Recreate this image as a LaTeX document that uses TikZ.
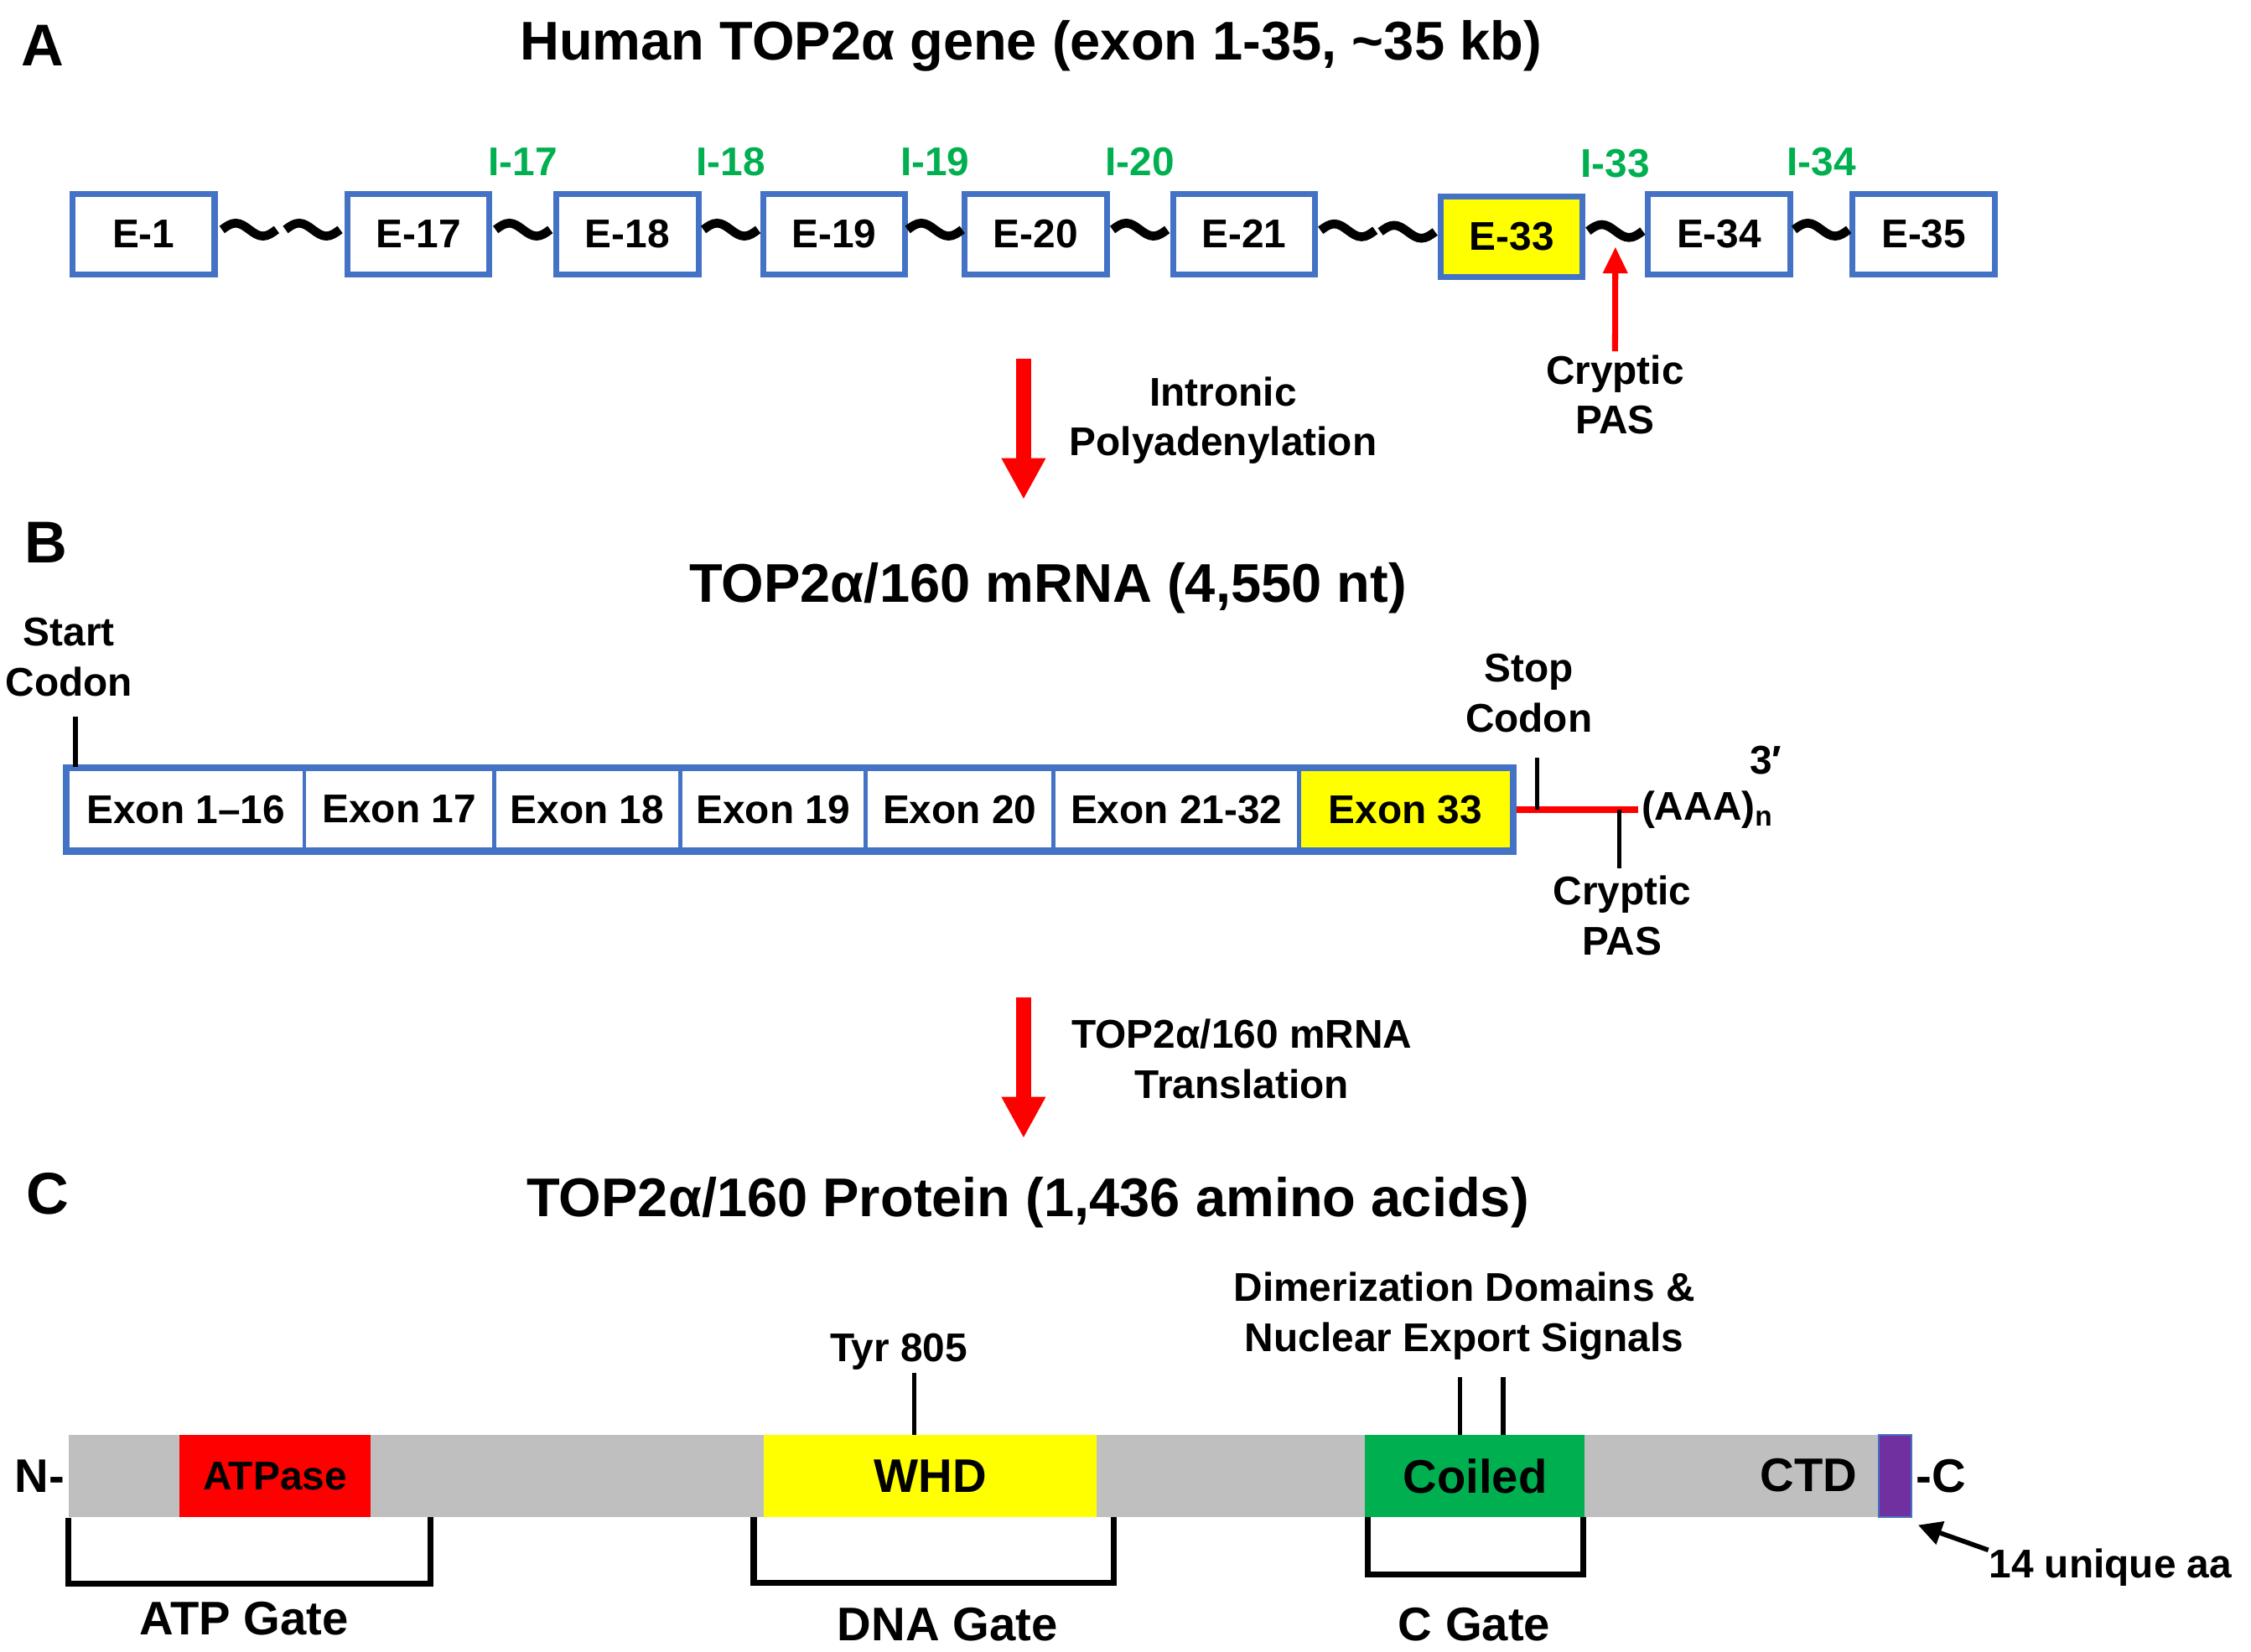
\documentclass[tikz,border=0pt]{standalone}
\usepackage{fontspec}
\setmainfont{Liberation Sans}
\usepackage{tikz}
\usetikzlibrary{arrows.meta, calc, positioning}
\definecolor{boxblue}{HTML}{4472C4}
\definecolor{introngreen}{HTML}{00B050}
\definecolor{exonyellow}{HTML}{FFFF00}
\definecolor{bargray}{HTML}{BFBFBF}
\definecolor{tailpurple}{HTML}{7030A0}
\definecolor{coilgreen}{HTML}{00B050}
\newcommand{\pxu}{0.017124cm}
\newcommand{\lblfont}{\fontsize{13.6}{17}\selectfont\bfseries}
\newcommand{\domfont}{\fontsize{16}{19}\selectfont\bfseries}
\newcommand{\headfont}{\fontsize{18.5}{22}\selectfont\bfseries}
\newcommand{\panelfont}{\fontsize{20}{24}\selectfont\bfseries}

\tikzset{
  lbl/.style={font=\lblfont, align=center, inner sep=1pt},
  dom/.style={font=\domfont, inner sep=1pt},
  head/.style={font=\headfont, inner sep=1pt},
  panel/.style={font=\panelfont, inner sep=1pt},
  exon/.style={draw=boxblue, line width=2pt, fill=white, minimum width=99*\pxu, minimum height=56*\pxu, inner sep=0pt, font=\lblfont},
  seg/.style={draw=boxblue, line width=1.4pt, fill=white, minimum height=56*\pxu, inner sep=0pt, font=\lblfont},
  intron/.style={font=\lblfont, text=introngreen, inner sep=1pt},
  wave/.pic={\draw[line width=3pt] (-19,-3) sin (-9.5,-7.5) cos (0,-3) sin (9.5,1.5) cos (19,-3);},
  flow/.style={draw=red, line width=5pt, -{Triangle[length=14pt, width=14pt]}},
  pasarrow/.style={draw=red, line width=2pt, -{Triangle[length=9pt, width=8pt]}},
  pointer/.style={line width=1.6pt, -{Triangle[length=8pt, width=8pt]}},
  tick/.style={line width=1.5pt},
  gate/.style={line width=2pt},
  region/.style={minimum height=57*\pxu, inner sep=0pt, font=\domfont}
}

\begin{document}
\begin{tikzpicture}[x=\pxu, y=-\pxu]
\useasboundingbox (0,0) rectangle (1568,1151);

% A: the gene
\node[panel] (pA) at (30,32) {A};
\node[head] (ttlA) at (718,32) {Human TOP2α gene (exon 1-35, \textasciitilde35 kb)};
\foreach \n/\x/\lab in {e1/100/E-1, e17/291.5/E-17, e18/437/E-18, e19/581/E-19, e20/721.5/E-20, e21/866.5/E-21, e34/1197.5/E-34, e35/1340/E-35}
  \node[exon] (\n) at (\x,163) {\lab};
\node[exon, fill=exonyellow] (e33) at (1053,165) {E-33};
\foreach \a/\b in {e1/e17, e21/e33} {
  \pic at ($(\a.east)!0.25!(\b.west)$) {wave};
  \pic at ($(\a.east)!0.75!(\b.west)$) {wave};
}
\foreach \a/\b/\lab in {e17/e18/I-17, e18/e19/I-18, e19/e20/I-19, e20/e21/I-20, e33/e34/I-33, e34/e35/I-34} {
  \coordinate (w\a) at ($(\a.east)!0.5!(\b.west)$);
  \pic at (w\a) {wave};
  \node[intron] (i\a) at ($(w\a)+(0,-50)$) {\lab};
}
\node[lbl] (pasA) at (1125,275) {Cryptic\\PAS};
\draw[pasarrow] (pasA.north) -- ($(we33)+(0,8)$);

\coordinate (flowA1) at (713,250);
\coordinate (flowA2) at (713,348);
\draw[flow] (flowA1) -- (flowA2);
\node[lbl] (stepA) at (852,293) {Intronic\\Polyadenylation};

% B: the mRNA
\node[panel] (pB) at (32,378) {B};
\node[head] (ttlB) at (730,410) {TOP2α/160 mRNA (4,550 nt)};
\coordinate (tail) at (1141,564);
\draw[red, line width=2.2pt] (1053,564) -- (tail);
\foreach \n/\x/\w/\lab in {s1/129.5/165/Exon 1--16, s2/278/132/Exon 17, s3/409/130/Exon 18, s4/538.5/129/Exon 19, s5/668.5/131/Exon 20, s6/819.5/171/Exon 21-32}
  \node[seg, minimum width=\w*\pxu] (\n) at (\x,564) {\lab};
\node[seg, minimum width=148*\pxu, fill=exonyellow] (s7) at (979,564) {Exon 33};
\draw[boxblue, line width=2pt] (s1.north west) rectangle (s7.south east);

\node[lbl] (startc) at (48,458) {Start\\Codon};
\draw[tick] ([xshift=7*\pxu]s1.north west) -- ++(0,-35);

\coordinate (stopsite) at ($(s7.east)!0.19!(tail)$);
\coordinate (passite) at ($(s7.east)!0.85!(tail)$);
\draw[tick] (stopsite) -- ++(0,-36);
\draw[tick] (passite) -- ++(0,41);
\node[lbl] (stopc) at (1065,483) {Stop\\Codon};
\node[lbl] (pasB) at (1130,638) {Cryptic\\PAS};
\node[lbl, anchor=west] (polytail) at (tail) {(AAA)\textsubscript{n}};
\node[lbl] (prime) at (1230,530) {3′};

\coordinate (flowB1) at (713,695);
\coordinate (flowB2) at (713,793);
\draw[flow] (flowB1) -- (flowB2);
\node[lbl] (stepB) at (865,738) {TOP2α/160 mRNA\\Translation};

% C: the protein
\node[panel] (pC) at (33,832) {C};
\node[head] (ttlC) at (716,838) {TOP2α/160 Protein (1,436 amino acids)};
\node[region, fill=bargray, minimum width=1260*\pxu] (bar) at (678,1028.5) {};
\node[region, fill=red, minimum width=133*\pxu, font=\lblfont] (atpase) at (191.5,1028.5) {ATPase};
\node[region, fill=exonyellow, minimum width=232*\pxu] (whd) at (648,1028.5) {WHD};
\node[region, fill=coilgreen, minimum width=153*\pxu] (coiled) at (1027.5,1028.5) {Coiled};
\node[region, fill=tailpurple, draw=boxblue, line width=0.6pt, minimum width=23*\pxu] (ctail) at (1320,1028.5) {};
\node[dom] (ctd) at (1260,1028) {CTD};
\node[dom, anchor=east] (nterm) at (bar.west) {N-};
\node[dom, anchor=west] (cterm) at (ctail.east) {-C};

\coordinate (tyrsite) at ([xshift=-11*\pxu]whd.north);
\draw[tick] (tyrsite) -- ++(0,-43);
\node[lbl] (tyr) at (626,942) {Tyr 805};
\coordinate (dimer1) at ([xshift=-10.5*\pxu]coiled.north);
\coordinate (dimer2) at ([xshift=19.5*\pxu]coiled.north);
\draw[tick] (dimer1) -- ++(0,-40);
\draw[tick] (dimer2) -- ++(0,-40);
\node[lbl] (dimer) at (1020,917) {Dimerization Domains \&\\Nuclear Export Signals};

\draw[gate] (bar.south west) -- ++(0,46) -| (300,1057);
\draw[gate] (525,1057) -- (525,1103) -| (776,1057);
\draw[gate] (953,1057) -- (953,1097) -| (1103,1057);
\node[dom] (atpgate) at (170,1128) {ATP Gate};
\node[dom] (dnagate) at (660,1132) {DNA Gate};
\node[dom] (cgate) at (1027,1132) {C Gate};

\node[lbl, anchor=west] (uniq) at (1383,1092) {14 unique aa};
\draw[pointer] ($(uniq.west)+(2,-12)$) -- ([shift={(4,5)}]ctail.south east);
\end{tikzpicture}
\end{document}
